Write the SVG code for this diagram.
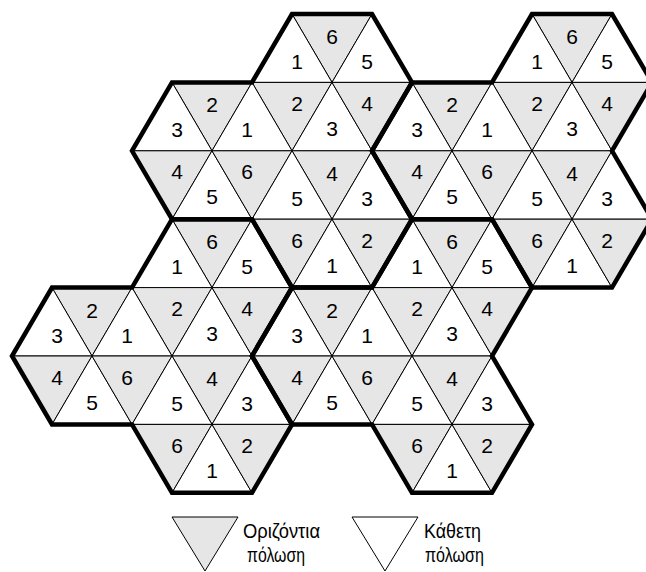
<svg xmlns="http://www.w3.org/2000/svg" xmlns:xlink="http://www.w3.org/1999/xlink" width="646" height="572" viewBox="0 0 646 572">
<style>
.g{fill:#e6e6e6;stroke:#000;stroke-width:1}
.w{fill:#fff;stroke:#000;stroke-width:1}
.n{font-family:"Liberation Sans",Arial,sans-serif;font-size:21px;text-anchor:middle;fill:#000}
.o{fill:none;stroke:#000;stroke-width:4.5;stroke-linejoin:miter}
.lg{font-family:"Liberation Sans",Arial,sans-serif;font-size:20px;fill:#000}
</style>
<defs>
<g id="hex">
<polygon class="g" points="0,0 -40,-68.4 40,-68.4"/>
<polygon class="w" points="0,0 -80,0 -40,-68.4"/>
<polygon class="w" points="0,0 40,-68.4 80,0"/>
<polygon class="g" points="0,0 -40,68.4 -80,0"/>
<polygon class="w" points="0,0 40,68.4 -40,68.4"/>
<polygon class="g" points="0,0 80,0 40,68.4"/>
</g>
</defs>
<rect width="646" height="572" fill="#fff"/>
<g id="hex1" transform="translate(332,82.4)"><use href="#hex" xlink:href="#hex"/><text class="n" x="0" y="-38.5">6</text><text class="n" x="-35" y="-13.5">1</text><text class="n" x="35" y="-13.5">5</text><text class="n" x="-35" y="28.5">2</text><text class="n" x="0" y="53.5">3</text><text class="n" x="35" y="28.5">4</text></g>
<g id="hex2" transform="translate(572,82.4)"><use href="#hex" xlink:href="#hex"/><text class="n" x="0" y="-38.5">6</text><text class="n" x="-35" y="-13.5">1</text><text class="n" x="35" y="-13.5">5</text><text class="n" x="-35" y="28.5">2</text><text class="n" x="0" y="53.5">3</text><text class="n" x="35" y="28.5">4</text></g>
<g id="hex3" transform="translate(452,287.6)"><use href="#hex" xlink:href="#hex"/><text class="n" x="0" y="-38.5">6</text><text class="n" x="-35" y="-13.5">1</text><text class="n" x="35" y="-13.5">5</text><text class="n" x="-35" y="28.5">2</text><text class="n" x="0" y="53.5">3</text><text class="n" x="35" y="28.5">4</text></g>
<g id="hex4" transform="translate(212,287.6)"><use href="#hex" xlink:href="#hex"/><text class="n" x="0" y="-38.5">6</text><text class="n" x="-35" y="-13.5">1</text><text class="n" x="35" y="-13.5">5</text><text class="n" x="-35" y="28.5">2</text><text class="n" x="0" y="53.5">3</text><text class="n" x="35" y="28.5">4</text></g>
<g id="hex5" transform="translate(212,150.8)"><use href="#hex" xlink:href="#hex"/><text class="n" x="0" y="-38.5">2</text><text class="n" x="-35" y="-13.5">3</text><text class="n" x="35" y="-13.5">1</text><text class="n" x="-35" y="28.5">4</text><text class="n" x="0" y="53.5">5</text><text class="n" x="35" y="28.5">6</text></g>
<g id="hex6" transform="translate(452,150.8)"><use href="#hex" xlink:href="#hex"/><text class="n" x="0" y="-38.5">2</text><text class="n" x="-35" y="-13.5">3</text><text class="n" x="35" y="-13.5">1</text><text class="n" x="-35" y="28.5">4</text><text class="n" x="0" y="53.5">5</text><text class="n" x="35" y="28.5">6</text></g>
<g id="hex7" transform="translate(92,356)"><use href="#hex" xlink:href="#hex"/><text class="n" x="0" y="-38.5">2</text><text class="n" x="-35" y="-13.5">3</text><text class="n" x="35" y="-13.5">1</text><text class="n" x="-35" y="28.5">4</text><text class="n" x="0" y="53.5">5</text><text class="n" x="35" y="28.5">6</text></g>
<g id="hex8" transform="translate(332,356)"><use href="#hex" xlink:href="#hex"/><text class="n" x="0" y="-38.5">2</text><text class="n" x="-35" y="-13.5">3</text><text class="n" x="35" y="-13.5">1</text><text class="n" x="-35" y="28.5">4</text><text class="n" x="0" y="53.5">5</text><text class="n" x="35" y="28.5">6</text></g>
<g id="hex9" transform="translate(332,219.2)"><use href="#hex" xlink:href="#hex"/><text class="n" x="0" y="-38.5">4</text><text class="n" x="-35" y="-13.5">5</text><text class="n" x="35" y="-13.5">3</text><text class="n" x="-35" y="28.5">6</text><text class="n" x="0" y="53.5">1</text><text class="n" x="35" y="28.5">2</text></g>
<g id="hex10" transform="translate(572,219.2)"><use href="#hex" xlink:href="#hex"/><text class="n" x="0" y="-38.5">4</text><text class="n" x="-35" y="-13.5">5</text><text class="n" x="35" y="-13.5">3</text><text class="n" x="-35" y="28.5">6</text><text class="n" x="0" y="53.5">1</text><text class="n" x="35" y="28.5">2</text></g>
<g id="hex11" transform="translate(212,424.4)"><use href="#hex" xlink:href="#hex"/><text class="n" x="0" y="-38.5">4</text><text class="n" x="-35" y="-13.5">5</text><text class="n" x="35" y="-13.5">3</text><text class="n" x="-35" y="28.5">6</text><text class="n" x="0" y="53.5">1</text><text class="n" x="35" y="28.5">2</text></g>
<g id="hex12" transform="translate(452,424.4)"><use href="#hex" xlink:href="#hex"/><text class="n" x="0" y="-38.5">4</text><text class="n" x="-35" y="-13.5">5</text><text class="n" x="35" y="-13.5">3</text><text class="n" x="-35" y="28.5">6</text><text class="n" x="0" y="53.5">1</text><text class="n" x="35" y="28.5">2</text></g>
<g id="outlines">
<polygon class="o" points="292,14 372,14 412,82.4 372,150.8 412,219.2 372,287.6 292,287.6 252,219.2 172,219.2 132,150.8 172,82.4 252,82.4"/>
<polygon class="o" points="532,14 612,14 652,82.4 612,150.8 652,219.2 612,287.6 532,287.6 492,219.2 412,219.2 372,150.8 412,82.4 492,82.4"/>
<polygon class="o" points="172,219.2 252,219.2 292,287.6 252,356 292,424.4 252,492.8 172,492.8 132,424.4 52,424.4 12,356 52,287.6 132,287.6"/>
<polygon class="o" points="412,219.2 492,219.2 532,287.6 492,356 532,424.4 492,492.8 412,492.8 372,424.4 292,424.4 252,356 292,287.6 372,287.6"/>
</g>
<g id="legend-horizontal">
<polygon class="g" points="172,517 238,517 205,571"/>
<text class="lg" x="243" y="538" textLength="77" lengthAdjust="spacingAndGlyphs">Οριζόντια</text>
<text class="lg" x="247" y="562" textLength="58" lengthAdjust="spacingAndGlyphs">πόλωση</text>
</g>
<g id="legend-vertical">
<polygon class="w" points="352,517 418,517 385,571"/>
<text class="lg" x="424" y="538" textLength="57" lengthAdjust="spacingAndGlyphs">Κάθετη</text>
<text class="lg" x="425" y="562" textLength="59" lengthAdjust="spacingAndGlyphs">πόλωση</text>
</g>
</svg>
